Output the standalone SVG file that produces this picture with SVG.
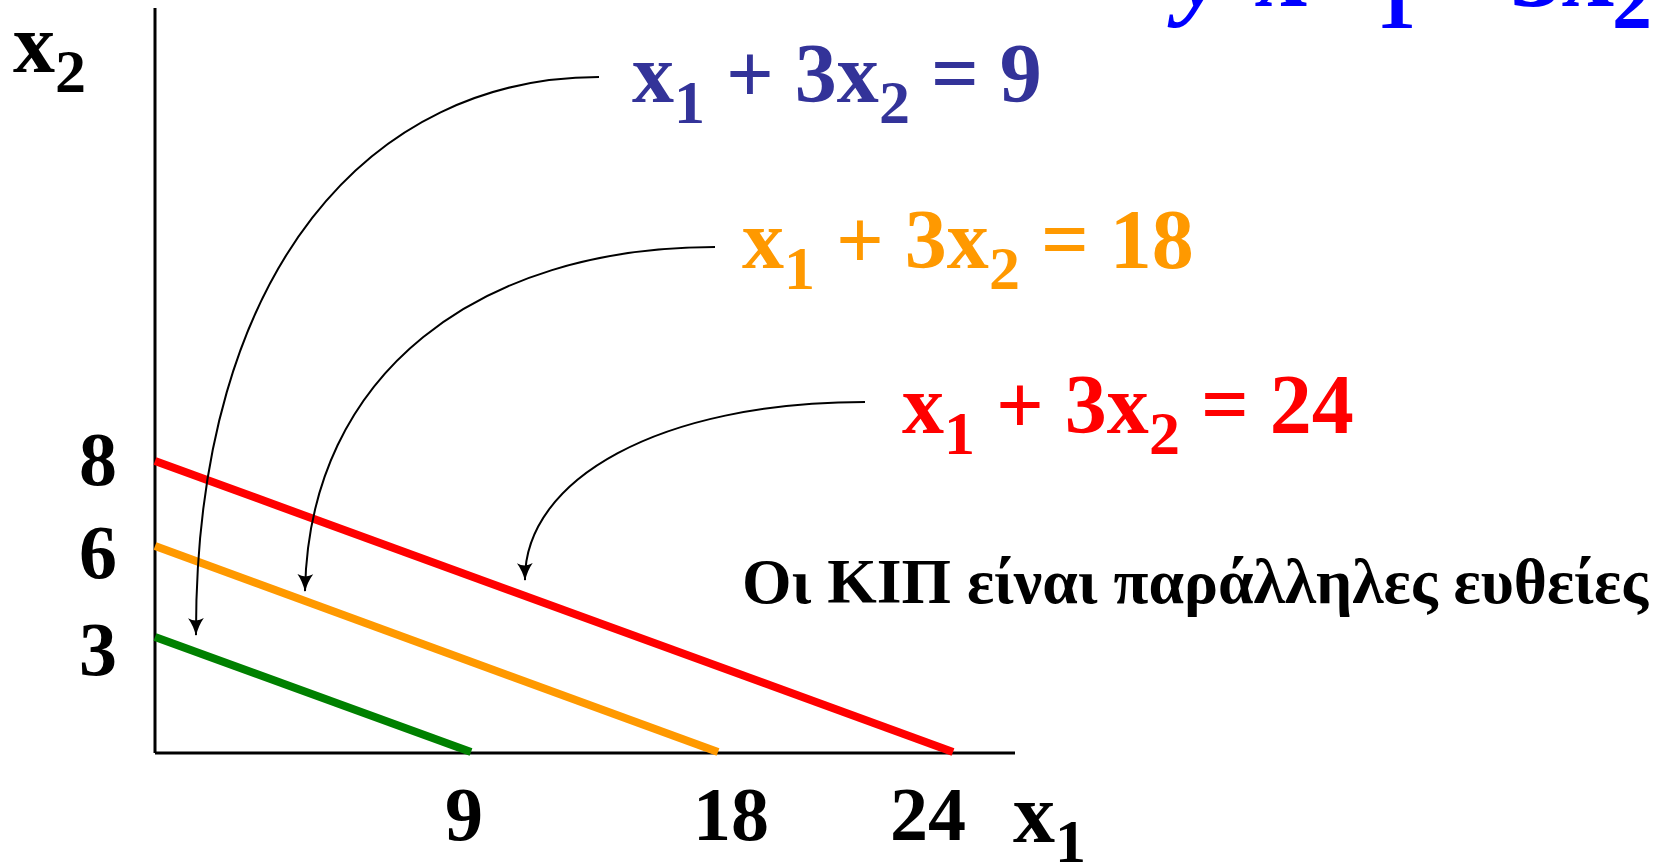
<svg xmlns="http://www.w3.org/2000/svg" width="1669" height="863" viewBox="0 0 1669 863">
<style>
  text { font-family: "Liberation Serif", "Times New Roman", serif; font-weight: bold; }
  .eq { font-size: 84px; }
  .sub { font-size: 62px; }
  .tick { font-size: 76px; fill: #000; text-anchor: middle; }
  .axis { stroke: #000; stroke-width: 3; fill: none; }
  .kip { stroke-width: 8; fill: none; stroke-linecap: butt; }
  .conn { stroke: #000; stroke-width: 2; fill: none; marker-end: url(#arr); }
</style>
<defs>
  <marker id="arr" markerUnits="userSpaceOnUse" markerWidth="18" markerHeight="18" viewBox="0 0 16 16" refX="15" refY="8" orient="auto">
    <path d="M0,1 Q7,6 16,8 Q7,10 0,15 Q4,8 0,1 Z" fill="#000"/>
  </marker>
</defs>
<rect width="1669" height="863" fill="#fff"/>

<g id="title">
  <text font-size="104" fill="#0000FF"><tspan x="1178" y="6" font-style="italic">y</tspan><tspan x="1222" y="-10" font-size="60">=</tspan><tspan x="1255" y="6">x</tspan><tspan x="1376" y="28" font-size="80">1</tspan><tspan x="1437" y="6">+</tspan><tspan x="1510" y="6">3x</tspan><tspan x="1612" y="28" font-size="80">2</tspan></text>
</g>

<g id="axes">
  <line class="axis" x1="155" y1="8" x2="155" y2="753"/>
  <line class="axis" x1="155" y1="753" x2="1015" y2="753"/>
  <text x="13" y="72" class="eq">x<tspan class="sub" dy="20">2</tspan></text>
  <text x="1013" y="842" class="eq">x<tspan class="sub" dy="20">1</tspan></text>
  <text x="98" y="485" class="tick">8</text>
  <text x="98" y="578" class="tick">6</text>
  <text x="98" y="675" class="tick">3</text>
  <text x="464" y="840" class="tick">9</text>
  <text x="731" y="840" class="tick">18</text>
  <text x="928" y="840" class="tick">24</text>
</g>

<g id="line-24">
  <line class="kip" stroke="#FF0000" x1="155" y1="461" x2="953" y2="752"/>
</g>
<g id="line-18">
  <line class="kip" stroke="#FF9900" x1="155" y1="546" x2="718" y2="752"/>
</g>
<g id="line-9">
  <line class="kip" stroke="#008000" x1="155" y1="637" x2="471" y2="752"/>
</g>

<g id="label-9">
  <text x="632" y="102" class="eq" fill="#333399">x<tspan class="sub" dy="21">1</tspan><tspan dy="-21"> + 3x</tspan><tspan class="sub" dy="21">2</tspan><tspan dy="-21"> = 9</tspan></text>
</g>
<g id="label-18">
  <text x="742" y="268" class="eq" fill="#FF9900">x<tspan class="sub" dy="21">1</tspan><tspan dy="-21"> + 3x</tspan><tspan class="sub" dy="21">2</tspan><tspan dy="-21"> = 18</tspan></text>
</g>
<g id="label-24">
  <text x="902" y="433" class="eq" fill="#FF0000">x<tspan class="sub" dy="21">1</tspan><tspan dy="-21"> + 3x</tspan><tspan class="sub" dy="21">2</tspan><tspan dy="-21"> = 24</tspan></text>
</g>
<g id="note">
  <text x="742" y="603" font-size="64" fill="#000" textLength="906" lengthAdjust="spacingAndGlyphs">Οι ΚΙΠ είναι παράλληλες ευθείες</text>
</g>

<g id="connectors">
  <path class="conn" d="M599,77 C373,77 195,266 196,635"/>
  <path class="conn" d="M715,247 C479,247 309,373 305,591"/>
  <path class="conn" d="M865,402 C660,402 524,479 525,580"/>
</g>
</svg>
